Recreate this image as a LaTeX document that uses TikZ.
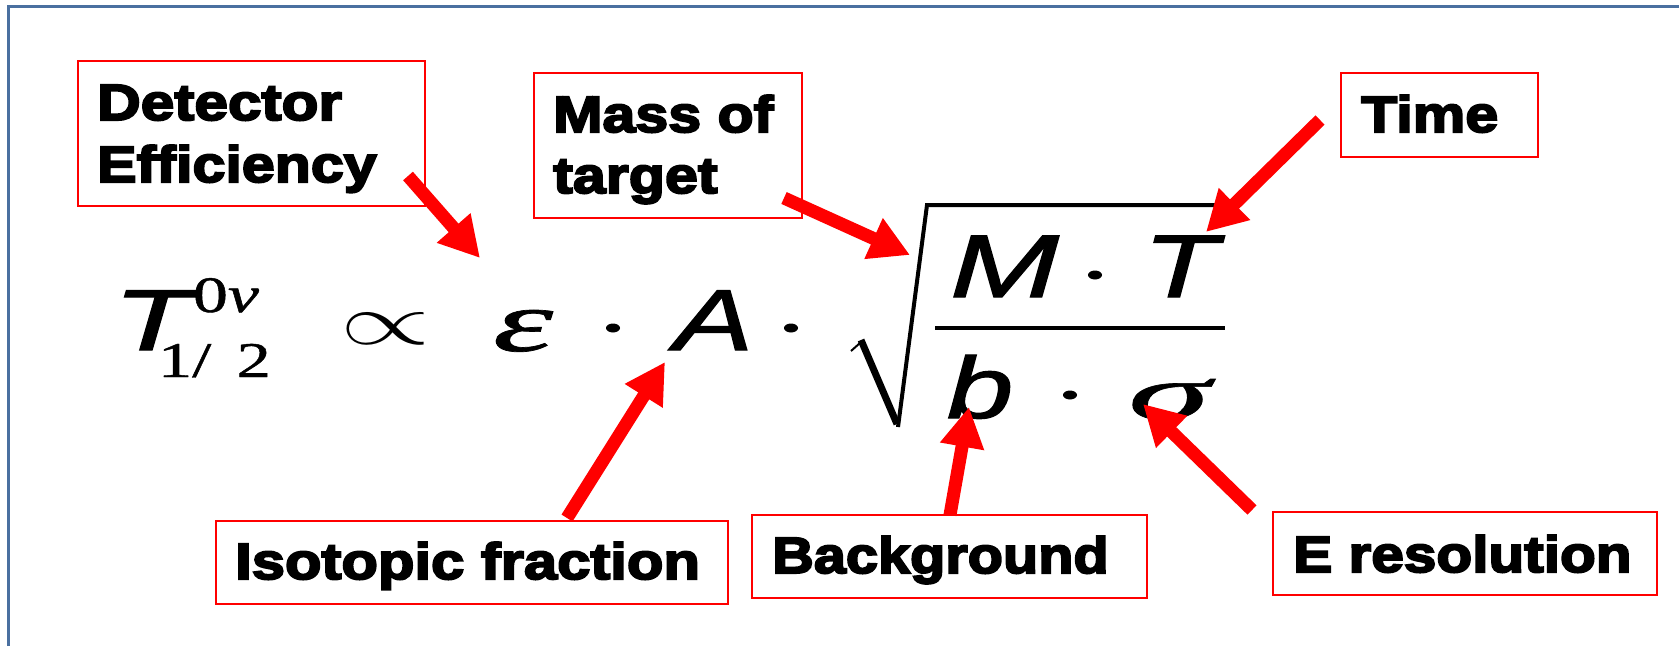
\documentclass[tikz,border=0pt]{standalone}
\usepackage{fontspec}
\usetikzlibrary{arrows.meta}
\newfontfamily\lblfont[FakeBold=4,FakeStretch=1.16]{Liberation Sans Bold}
\newfontfamily\fsans[FakeBold=1.2]{Liberation Sans}
\newfontfamily\fserif[FakeBold=0.8]{Liberation Serif}
\definecolor{frameblue}{RGB}{74,112,160}
\newcommand\sxx[1]{\scalebox{1.37}[1]{#1}}
\begin{document}
\begin{tikzpicture}[x=1pt,y=-1pt,
  lblbox/.style={draw=red, line width=2pt, inner sep=0pt, outer sep=0pt},
  lbl/.style={anchor=base west, inner sep=0pt, font=\lblfont\fontsize{51}{51}\selectfont},
  glyph/.style={anchor=base west, inner sep=0pt, outer sep=0pt},
  callout/.style={draw=red, line width=13pt, -{Triangle[length=40pt,width=42pt]}},
  rad/.style={line width=4pt, line join=miter}
]
\useasboundingbox (0,0) rectangle (1679,646);
\fill[white] (0,0) rectangle (1679,646);
\draw[frameblue, line width=3pt] (8,646) -- (8,6) -- (1679,6);

% label boxes
\node[lblbox, minimum width=347pt, minimum height=145pt] (det) at (251.5,133.5) {};
\node[lblbox, minimum width=268pt, minimum height=145pt] (mass) at (668,145.5) {};
\node[lblbox, minimum width=197pt, minimum height=84pt] (time) at (1439.5,115) {};
\node[lblbox, minimum width=512pt, minimum height=83pt] (iso) at (472,562.5) {};
\node[lblbox, minimum width=395pt, minimum height=83pt] (bg) at (949.5,556.5) {};
\node[lblbox, minimum width=384pt, minimum height=83pt] (eres) at (1465,553.5) {};

% label texts
\node[lbl] (detA) at (97,120) {\scalebox{1.02}[1]{Detector}};
\node[lbl] (detB) at (97,182) {Efficiency};
\node[lbl] (massA) at (553,132) {Mass of};
\node[lbl] (massB) at (553,193) {target};
\node[lbl] (timeL) at (1361,132) {Time};
\node[lbl] (isoL) at (235,579) {\scalebox{1.01}[1]{Isotopic fraction}};
\node[lbl] (bgL) at (772,573) {\scalebox{0.975}[1]{Background}};
\node[lbl] (eresL) at (1293,572) {\scalebox{0.99}[1]{E resolution}};

% formula
\node[glyph] (Tbig) at (113,350) {\scalebox{1.5}[1]{\fsans\itshape\fontsize{86.6}{86.6}\selectfont T}};
\node[glyph] (sup) at (193,312) {\sxx{\fserif\fontsize{51}{51}\selectfont 0\textit{ν}}};
\node[glyph] (sub) at (158,377) {\sxx{\fserif\fontsize{50}{50}\selectfont 1/\hspace{0.37em}2}};
\node[glyph] (prop) at (340.5,344.2) {\resizebox{90pt}{31.2pt}{$\propto$}};
\node[glyph] (eps) at (493,351) {\resizebox{60pt}{41pt}{\fserif\itshape ε}};
\fill (613,328) ellipse [x radius=7, y radius=4.5];
\node[glyph] (A) at (674,350) {\sxx{\fsans\itshape\fontsize{86.6}{86.6}\selectfont A}};
\fill (791,328) ellipse [x radius=7, y radius=4.5];
\node[glyph] (M) at (950,297) {\scalebox{1.47}[1]{\fsans\itshape\fontsize{89}{89}\selectfont M}};
\fill (1095,275) ellipse [x radius=7, y radius=4.5];
\node[glyph] (Tn) at (1143,297) {\sxx{\fsans\itshape\fontsize{89}{89}\selectfont T}};
\node[glyph] (b) at (947,418) {\sxx{\fsans\itshape\fontsize{87}{87}\selectfont b}};
\fill (1070,395) ellipse [x radius=7, y radius=4.5];
\node[glyph] (sig) at (1128,419) {\resizebox{82pt}{40pt}{\fserif\itshape σ}};

% radical and fraction bar
\draw[line width=2pt] (851,351) -- (860,343);
\draw[line width=7pt] (861,340) -- (897,424);
\draw[rad] (898,427) -- (927,205) -- (1215,205);
\draw[line width=4pt] (935,328) -- (1225,328);

% callout arrows
\coordinate (detT) at (408,176);  \coordinate (detH) at (480,258);
\coordinate (massT) at (784,198); \coordinate (massH) at (910,255);
\coordinate (timeT) at (1320,120); \coordinate (timeH) at (1206,232);
\coordinate (isoT) at (567,518);  \coordinate (isoH) at (665,362);
\coordinate (bgT) at (950,515);   \coordinate (bgH) at (969,407);
\coordinate (eresT) at (1252,510); \coordinate (eresH) at (1143,404);
\draw[callout] (detT) -- (detH);
\draw[callout] (massT) -- (massH);
\draw[callout] (timeT) -- (timeH);
\draw[callout] (isoT) -- (isoH);
\draw[callout] (bgT) -- (bgH);
\draw[callout] (eresT) -- (eresH);
\end{tikzpicture}
\end{document}
